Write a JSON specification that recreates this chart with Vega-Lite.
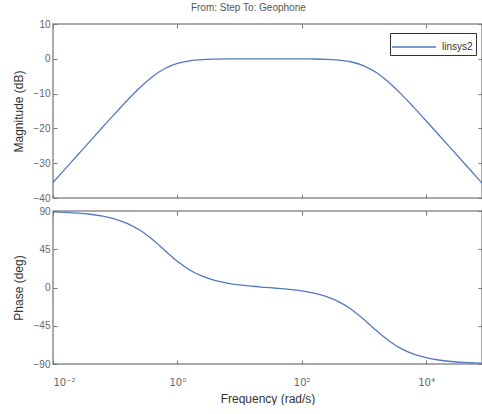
{
  "$schema": "https://vega.github.io/schema/vega-lite/v6.json",
  "padding": {"left": 11, "top": 3, "right": 0, "bottom": 0},
  "background": "white",
  "title": {"text": "From: Step  To: Geophone", "fontSize": 10, "font": "Liberation Sans", "fontWeight": "normal", "color": "#555555", "offset": 5, "anchor": "middle"},
  "datasets": {
    "bode": [
      {"w": 0.01, "mag": -35.56, "phase": 89.05},
      {"w": 0.01585, "mag": -31.56, "phase": 88.49},
      {"w": 0.02512, "mag": -27.57, "phase": 87.6},
      {"w": 0.03981, "mag": -23.58, "phase": 86.2},
      {"w": 0.0631, "mag": -19.61, "phase": 83.99},
      {"w": 0.1, "mag": -15.68, "phase": 80.54},
      {"w": 0.1585, "mag": -11.85, "phase": 75.2},
      {"w": 0.2512, "mag": -8.26, "phase": 67.28},
      {"w": 0.3981, "mag": -5.15, "phase": 56.43},
      {"w": 0.631, "mag": -2.8, "phase": 43.53},
      {"w": 1, "mag": -1.34, "phase": 30.92},
      {"w": 1.585, "mag": -0.58, "phase": 20.66},
      {"w": 2.512, "mag": -0.24, "phase": 13.32},
      {"w": 3.981, "mag": -0.1, "phase": 8.39},
      {"w": 6.31, "mag": -0.04, "phase": 5.15},
      {"w": 10, "mag": -0.02, "phase": 2.99},
      {"w": 15.85, "mag": -0.01, "phase": 1.47},
      {"w": 25.12, "mag": -0.01, "phase": 0.26},
      {"w": 39.81, "mag": -0.01, "phase": -0.89},
      {"w": 63.1, "mag": -0.02, "phase": -2.24},
      {"w": 100, "mag": -0.03, "phase": -4.06},
      {"w": 158.5, "mag": -0.06, "phase": -6.73},
      {"w": 251.2, "mag": -0.16, "phase": -10.8},
      {"w": 398.1, "mag": -0.39, "phase": -16.94},
      {"w": 631, "mag": -0.92, "phase": -25.84},
      {"w": 1000, "mag": -2.02, "phase": -37.54},
      {"w": 1585, "mag": -3.96, "phase": -50.62},
      {"w": 2512, "mag": -6.75, "phase": -62.63},
      {"w": 3981, "mag": -10.16, "phase": -71.91},
      {"w": 6310, "mag": -13.9, "phase": -78.36},
      {"w": 10000, "mag": -17.79, "phase": -82.59},
      {"w": 15849, "mag": -21.75, "phase": -85.31},
      {"w": 25119, "mag": -25.73, "phase": -87.04},
      {"w": 39811, "mag": -29.72, "phase": -88.13},
      {"w": 63096, "mag": -33.72, "phase": -88.82},
      {"w": 79433, "mag": -35.72, "phase": -89.06}
    ]
  },
  "spacing": 1,
  "vconcat": [
    {
      "width": 429,
      "height": 174,
      "data": {"name": "bode"},
      "resolve": {"axis": {"x": "independent", "y": "independent"}},
      "layer": [
        {
          "mark": {"type": "line", "strokeWidth": 1.3, "interpolate": "monotone"},
          "encoding": {
            "x": {"field": "w", "type": "quantitative", "scale": {"type": "log", "domain": [0.01, 79433], "nice": false},
              "axis": {"values": [0.01, 1, 100, 10000], "labels": false, "title": null, "tickSize": -4, "domain": false, "tickColor": "#777777"}},
            "y": {"field": "mag", "type": "quantitative", "scale": {"domain": [-40, 10], "nice": false},
              "axis": {"values": [-40, -30, -20, -10, 0, 10], "title": "Magnitude (dB)", "tickSize": -4, "labelPadding": 7, "titlePadding": 8, "domain": false, "tickColor": "#777777"}},
            "color": {"datum": "linsys2", "type": "nominal", "scale": {"range": ["#5478be"]},
              "legend": {"title": null, "orient": "none", "legendX": 337, "legendY": 9, "symbolType": "M-1.2,0L3.2,0", "symbolSize": 400, "symbolStrokeWidth": 1.5, "strokeColor": "#333333", "fillColor": "white", "padding": 3, "labelFontSize": 10, "labelFont": "Liberation Sans", "labelColor": "#333333", "labelOffset": 27}}
          }
        },
        {
          "mark": {"type": "line", "opacity": 0},
          "encoding": {
            "x": {"field": "w", "type": "quantitative", "axis": {"orient": "top", "values": [0.01, 1, 100, 10000], "labels": false, "title": null, "tickSize": -4, "domain": false, "tickColor": "#777777"}},
            "y": {"field": "mag", "type": "quantitative", "axis": {"orient": "right", "values": [-40, -30, -20, -10, 0, 10], "labels": false, "title": null, "tickSize": -4, "domain": false, "tickColor": "#777777"}}
          }
        }
      ]
    },
    {
      "width": 429,
      "height": 153,
      "data": {"name": "bode"},
      "resolve": {"axis": {"x": "independent", "y": "independent"}},
      "layer": [
        {
          "mark": {"type": "line", "strokeWidth": 1.3, "interpolate": "monotone", "color": "#5478be"},
          "encoding": {
            "x": {"field": "w", "type": "quantitative", "scale": {"type": "log", "domain": [0.01, 79433], "nice": false},
              "axis": {"values": [0.01, 1, 100, 10000], "title": "Frequency  (rad/s)", "tickSize": -4, "labelPadding": 17, "titlePadding": 6, "domain": false, "tickColor": "#777777", "labelFont": "DejaVu Sans", "labelFontSize": 10,
                "labelExpr": "datum.value == 0.01 ? '10⁻²' : datum.value == 1 ? '10⁰' : datum.value == 100 ? '10²' : '10⁴'"}},
            "y": {"field": "phase", "type": "quantitative", "scale": {"domain": [-90, 90], "nice": false},
              "axis": {"values": [-90, -45, 0, 45, 90], "title": "Phase (deg)", "tickSize": -4, "labelPadding": 7, "titlePadding": 8, "domain": false, "tickColor": "#777777"}}
          }
        },
        {
          "mark": {"type": "line", "opacity": 0},
          "encoding": {
            "x": {"field": "w", "type": "quantitative", "axis": {"orient": "top", "values": [0.01, 1, 100, 10000], "labels": false, "title": null, "tickSize": -4, "domain": false, "tickColor": "#777777"}},
            "y": {"field": "phase", "type": "quantitative", "axis": {"orient": "right", "values": [-90, -45, 0, 45, 90], "labels": false, "title": null, "tickSize": -4, "domain": false, "tickColor": "#777777"}}
          }
        }
      ]
    }
  ],
  "config": {
    "font": "Liberation Sans",
    "view": {"stroke": "#8f8f8f", "strokeWidth": 1.5},
    "axis": {"grid": false, "labelFont": "Liberation Sans", "labelFontSize": 10, "labelColor": "#666666", "titleFont": "Liberation Sans", "titleFontSize": 12, "titleFontWeight": "normal", "titleColor": "#333333"}
  }
}
